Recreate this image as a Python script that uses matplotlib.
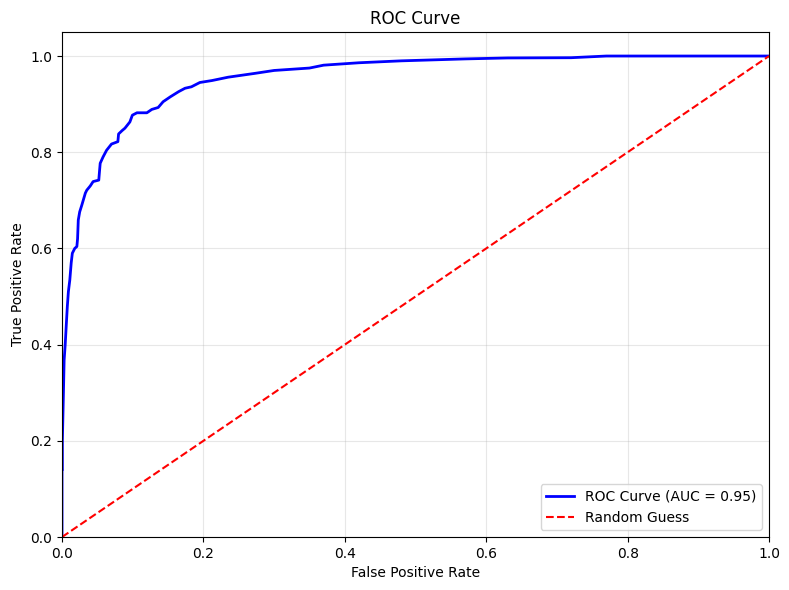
import matplotlib
matplotlib.use('Agg')
import matplotlib.pyplot as plt

# ROC points
fpr = [0, 0, 0.0005, 0.0005, 0.002, 0.003, 0.0045, 0.006, 0.0075, 0.009, 0.011, 0.013,
       0.0146, 0.018, 0.021, 0.022, 0.023, 0.025, 0.028, 0.030, 0.033, 0.035, 0.040,
       0.044, 0.052, 0.053, 0.054, 0.058, 0.063, 0.070, 0.079, 0.080, 0.085, 0.089,
       0.096, 0.0995, 0.106, 0.12, 0.127, 0.136, 0.143, 0.153, 0.165, 0.174, 0.183,
       0.195, 0.212, 0.235, 0.273, 0.30, 0.35, 0.37, 0.42, 0.48, 0.57, 0.63, 0.72,
       0.77, 1.0]
tpr = [0, 0.14, 0.14, 0.2, 0.30, 0.368, 0.40, 0.44, 0.479, 0.51, 0.534, 0.57,
       0.59, 0.60, 0.604, 0.62, 0.659, 0.676, 0.69, 0.70, 0.715, 0.721, 0.73,
       0.739, 0.742, 0.76, 0.777, 0.79, 0.804, 0.817, 0.822, 0.838, 0.845, 0.850,
       0.863, 0.877, 0.882, 0.882, 0.889, 0.893, 0.905, 0.915, 0.926, 0.933, 0.936,
       0.945, 0.949, 0.956, 0.964, 0.970, 0.975, 0.981, 0.986, 0.990, 0.994, 0.996,
       0.9965, 1.0, 1.0]
auc = 0.95

plt.figure(figsize=(7.89, 5.9), dpi=100)
# roc curve
plt.plot(fpr, tpr, color='blue', lw=2, label='ROC Curve (AUC = %0.2f)' % auc)
# diagonal
plt.plot([0, 1], [0, 1], color='red', linestyle='--', lw=1.5, label='Random Guess')
plt.xlim(0, 1)
plt.ylim(0, 1.05)
plt.xlabel('False Positive Rate')
plt.ylabel('True Positive Rate')
plt.title('ROC Curve')
plt.legend(loc='lower right')
plt.grid(True, alpha=0.3)
plt.subplots_adjust(left=0.0786, right=0.9747, top=0.9458, bottom=0.0898)
plt.savefig('out.png', dpi=100)
